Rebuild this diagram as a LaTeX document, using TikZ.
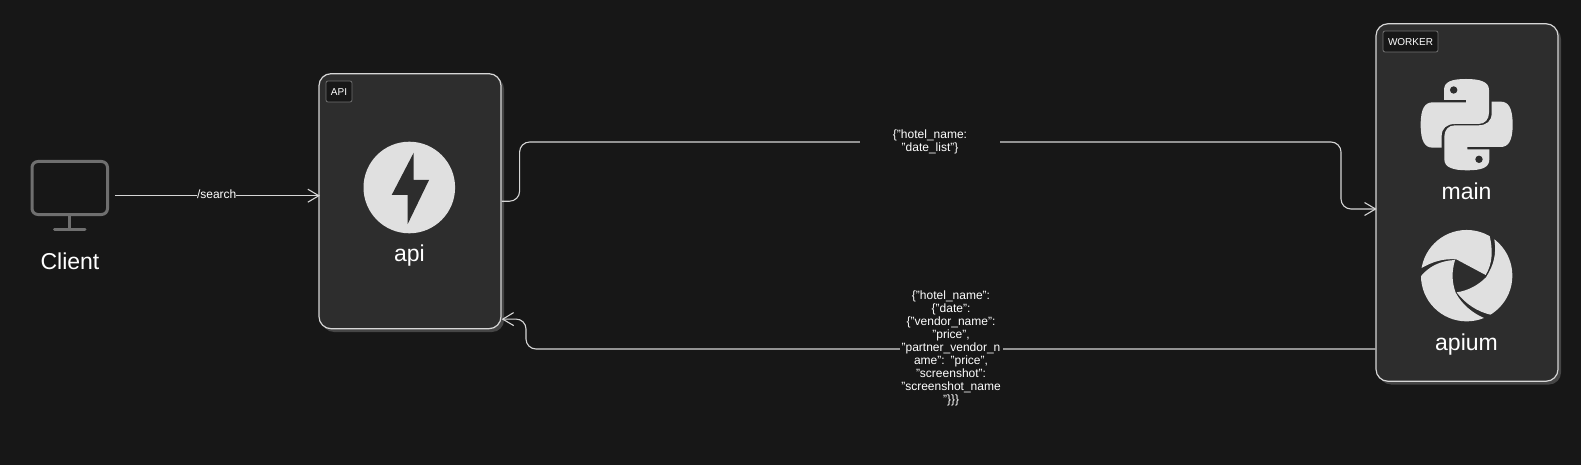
\documentclass[tikz,border=0pt]{standalone}
\usepackage{fontspec}
\setmainfont{Liberation Sans}
\usetikzlibrary{arrows.meta}
\definecolor{bgc}{HTML}{171717}
\definecolor{boxc}{HTML}{2D2D2D}
\definecolor{shc}{HTML}{454545}
\definecolor{linec}{HTML}{D6D6D6}
\definecolor{iconc}{HTML}{E0E0E0}
\definecolor{monc}{HTML}{6F6F6F}
\tikzset{
  group/.style={draw=linec,fill=boxc,line width=1.2pt,rounded corners=12pt,inner sep=0pt},
  shadowbox/.style={fill=shc,rounded corners=12pt},
  tag/.style={draw=monc,fill=bgc,line width=0.8pt,rounded corners=2pt,text=white,inner sep=0pt,font=\fontsize{10}{12}\selectfont},
  biglabel/.style={text=white,inner sep=0pt,font=\fontsize{23}{26}\selectfont},
  edgelabel/.style={fill=bgc,text=white,inner sep=0pt,align=center,font=\fontsize{12}{13}\selectfont},
  conn/.style={draw=linec,line width=1.1pt,rounded corners=10pt,-{Straight Barb[length=11pt,width=13pt,line width=1.1pt]}},
  mon/.style={draw=monc,line width=3pt},
}
\begin{document}
\begin{tikzpicture}[x=1pt,y=-1pt]
\useasboundingbox (0,0) rectangle (1581,465);
\fill[bgc] (0,0) rectangle (1581,465);
% shadows
\fill[shadowbox] (322,77) rectangle (504,332);
\fill[shadowbox] (1379,27) rectangle (1561,384.5);
% groups
\node[group,minimum width=182pt,minimum height=255pt] (api) at (410,201.2) {};
\node[group,minimum width=182pt,minimum height=357.5pt] (worker) at (1467,202.5) {};
\node[tag,minimum width=26pt,minimum height=21pt] (apitag) at (339,91.5) {\raisebox{-3.6pt}[0pt][0pt]{API}};
\node[tag,minimum width=55pt,minimum height=21pt] (workertag) at (1410.5,41.5) {\raisebox{-3.6pt}[0pt][0pt]{WORKER}};
% monitor
\draw[mon,rounded corners=6pt] (32,161.5) rectangle (107.5,214.5);
\draw[monc,line width=2.5pt] (69.7,215) -- (69.7,229.7);
\draw[monc,line width=3pt,line cap=round] (54.5,229.7) -- (85,229.7);
\coordinate (clientport) at (115,195.7);
\node[biglabel,anchor=base] (clientlabel) at (70,269.5) {Client};
% fastapi icon
\fill[iconc] (409.3,187.5) circle (45.8);
\fill[boxc] (413.7,152.7) -- (413.7,180) -- (429,180) -- (407.7,224) -- (407.7,195) -- (391.7,195) -- cycle;
\node[biglabel,anchor=base] (apilabel) at (409.5,261.5) {api};
% python icon
\begin{scope}[shift={(1340,10)},x=0.3333pt,y=-0.3333pt]
\def\pyhalf{(378,207) .. controls (335,207) and (312,215) .. (312,240) -- (312,270) -- (378,270) -- (378,277) -- (278,277) .. controls (255,277) and (242,295) .. (242,344) .. controls (242,395) and (255,413) .. (278,413) -- (305,413) -- (305,378) .. controls (305,355) and (320,342) .. (345,342) -- (415,342) .. controls (435,342) and (447,328) .. (447,308) -- (447,240) .. controls (447,215) and (420,207) .. (378,207) -- cycle}
\fill[iconc] \pyhalf;
\begin{scope}[shift={(760,688)},x=-0.3333pt,y=0.3333pt]
\fill[iconc] \pyhalf;
\end{scope}
\fill[boxc] (341,240) circle (3.7pt);
\fill[boxc] (417,448) circle (3.7pt);
\end{scope}
\node[biglabel,anchor=base] (mainlabel) at (1466.5,199.5) {main};
% apium icon
\begin{scope}[shift={(1340,200)},x=0.3333pt,y=-0.3333pt]
\begin{scope}
\clip (380,227) circle (45.7pt);
\fill[iconc] (238,208) -- (230,60) -- (448,60) -- (447,100) .. controls (460,150) and (458,190) .. (437,225) -- (349,178) .. controls (310,175) and (275,185) .. (238,208) -- cycle;
\fill[iconc] (463,118) -- (560,150) -- (540,345) -- (455,345) .. controls (410,335) and (375,310) .. (350,277) .. controls (385,272) and (415,255) .. (438,232) .. controls (462,195) and (470,160) .. (463,118) -- cycle;
\fill[iconc] (432,354) -- (300,400) -- (200,250) -- (240,232) .. controls (265,200) and (300,182) .. (345,180) .. controls (335,215) and (335,245) .. (347,278) .. controls (365,312) and (395,338) .. (432,354) -- cycle;
\end{scope}
\end{scope}
\node[biglabel,anchor=base] (apiumlabel) at (1466.5,350.5) {apium};
% connectors
\draw[conn,shorten >=-1.5pt] (clientport) -- ([yshift=5.5pt]api.west);
\node[edgelabel] (searchlabel) at (216.7,194.5) {/search};
\draw[conn,shorten >=-1.2pt] (api.east) -- ++(18,0) |- (930,142) -| (1341,209) -- ([yshift=-6.5pt]worker.west);
\node[edgelabel,minimum width=140pt] (l1) at (930,141.5) {\{"hotel\_name:\\"date\_list"\}};
\draw[conn] ([yshift=-146.5pt]worker.west) -- (526,349) -- (526,319) -- ([yshift=-118pt]api.east);
\node[edgelabel,text width=103pt] (l2) at (951,348) {\{"hotel\_name":\\\{"date":\\\{"vendor\_name":\\"price",\\"partner\_vendor\_n\\ame": "price",\\"screenshot":\\"screenshot\_name\\"\}\}\}};
\end{tikzpicture}
\end{document}
